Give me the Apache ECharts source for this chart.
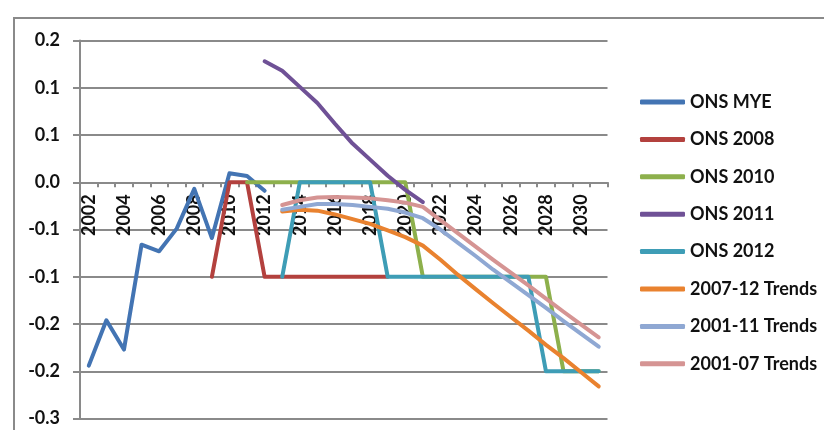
<!DOCTYPE html>
<html>
<head>
<meta charset="utf-8">
<script src="https://cdn.jsdelivr.net/npm/echarts@6/dist/echarts.min.js"></script>
<style>
  html, body { margin: 0; padding: 0; background: #fff; }
  #chart { width: 824px; height: 430px; }
</style>
</head>
<body>
<div id="chart"></div>
<script>
// Years on the category axis
const years = [2002, 2003, 2004, 2005, 2006, 2007, 2008, 2009, 2010, 2011,
               2012, 2013, 2014, 2015, 2016, 2017, 2018, 2019, 2020, 2021,
               2022, 2023, 2024, 2025, 2026, 2027, 2028, 2029, 2030, 2031];

// Series values, one per year (null where a series has no value)
const onsMye = [-0.194, -0.146, -0.177, -0.066, -0.073, -0.049, -0.007, -0.059, 0.0095, 0.0067,
                -0.009, null, null, null, null, null, null, null, null, null,
                null, null, null, null, null, null, null, null, null, null];
const ons2008 = [null, null, null, null, null, null, null, -0.1, 0, 0,
                 -0.1, -0.1, -0.1, -0.1, -0.1, -0.1, -0.1, -0.1, null, null,
                 null, null, null, null, null, null, null, null, null, null];
const ons2010 = [null, null, null, null, null, null, null, null, null, 0,
                 0, 0, 0, 0, 0, 0, 0, 0, 0, -0.1,
                 -0.1, -0.1, -0.1, -0.1, -0.1, -0.1, -0.1, -0.2, -0.2, -0.2];
const ons2011 = [null, null, null, null, null, null, null, null, null, null,
                 0.128, 0.118, 0.101, 0.084, 0.062, 0.041, 0.024, 0.007, -0.008, -0.021,
                 null, null, null, null, null, null, null, null, null, null];
const ons2012 = [null, null, null, null, null, null, null, null, null, null,
                 null, -0.1, 0, 0, 0, 0, 0, -0.1, -0.1, -0.1,
                 -0.1, -0.1, -0.1, -0.1, -0.1, -0.1, -0.2, -0.2, -0.2, -0.2];
const trends0712 = [null, null, null, null, null, null, null, null, null, null,
                    null, -0.031, -0.029, -0.030, -0.034, -0.039, -0.044, -0.051, -0.058, -0.067,
                    -0.082, -0.098, -0.113, -0.128, -0.1425, -0.157, -0.172, -0.186, -0.201, -0.216];
const trends0111 = [null, null, null, null, null, null, null, null, null, null,
                    null, -0.029, -0.026, -0.023, -0.023, -0.024, -0.026, -0.028, -0.032, -0.038,
                    -0.050, -0.064, -0.078, -0.0925, -0.106, -0.1195, -0.133, -0.147, -0.1605, -0.174];
const trends0107 = [null, null, null, null, null, null, null, null, null, null,
                    null, -0.024, -0.019, -0.016, -0.0155, -0.016, -0.017, -0.019, -0.0215, -0.026,
                    -0.040, -0.054, -0.068, -0.082, -0.0956, -0.109, -0.123, -0.137, -0.1507, -0.164];

const seriesNames = ['ONS MYE', 'ONS 2008', 'ONS 2010', 'ONS 2011', 'ONS 2012',
                     '2007-12 Trends', '2001-11 Trends', '2001-07 Trends'];
const seriesData = [onsMye, ons2008, ons2010, ons2011, ons2012, trends0712, trends0111, trends0107];
const seriesColors = ['#4374B3', '#B3413E', '#8DB04C', '#6F5196', '#3E9DB6',
                      '#E9822F', '#8FA8D3', '#D59493'];

// Value axis range
const yMin = -0.25, yMax = 0.15, yStep = 0.05;

// One decimal, halves rounded away from zero
function oneDecimal(v) {
  const r = Math.round(Math.abs(v) * 10 + 1e-9) / 10;
  const s = r.toFixed(1);
  return (v < 0 && r !== 0) ? '-' + s : s;
}

const FONT = 'Lato, "Open Sans", sans-serif';
const GRAY = '#8a8a8a';

// Plot box
const GRID_TOP = 40.55, GRID_BOTTOM = 11.45, PLOT_H = 430 - GRID_TOP - GRID_BOTTOM;
// Category axis sits on the zero line of the value axis
const zeroOffset = -PLOT_H * (0 - yMin) / (yMax - yMin);

const chart = echarts.init(document.getElementById('chart'), null, { renderer: 'canvas' });

chart.setOption({
  animation: false,
  backgroundColor: '#ffffff',
  graphic: [{
    type: 'rect',
    shape: { x: 14, y: 18, width: 900, height: 500 },
    style: { fill: 'none', stroke: GRAY, lineWidth: 2 },
    silent: true
  }],
  grid: { left: 80, right: 216.5, top: GRID_TOP, bottom: GRID_BOTTOM, containLabel: false, outerBoundsMode: 'none' },
  legend: {
    orient: 'vertical',
    left: 635,
    top: 87,
    itemWidth: 45,
    itemHeight: 5,
    itemGap: 17.4,
    icon: 'roundRect',
    textStyle: {
      fontFamily: FONT, fontSize: 18, fontWeight: 'bold', color: '#111',
      lineHeight: 20
    },
    data: seriesNames
  },
  xAxis: {
    type: 'category',
    data: years,
    boundaryGap: true,
    position: 'bottom',
    offset: zeroOffset,
    axisLine: { show: true, onZero: false, lineStyle: { color: GRAY, width: 2 } },
    axisTick: { show: true, interval: 0, length: 5, inside: false, lineStyle: { color: GRAY, width: 2 } },
    axisLabel: {
      interval: 1, rotate: 90, margin: 12,
      fontFamily: FONT, fontSize: 18, fontWeight: 'bold', color: '#111'
    },
    splitLine: { show: false }
  },
  yAxis: {
    type: 'value',
    min: yMin, max: yMax, interval: yStep,
    axisLine: { show: true, lineStyle: { color: GRAY, width: 2 } },
    axisTick: { show: true, length: 7, lineStyle: { color: GRAY, width: 2 } },
    axisLabel: {
      margin: 20, formatter: oneDecimal,
      fontFamily: FONT, fontSize: 18, fontWeight: 'bold', color: '#111'
    },
    splitLine: { show: true, lineStyle: { color: GRAY, width: 2 } }
  },
  // Lines go on their own layer so they sit above the year labels
  series: seriesNames.map((name, i) => ({
    name: name,
    type: 'line',
    zlevel: 1,
    data: seriesData[i],
    showSymbol: false,
    symbol: 'none',
    connectNulls: false,
    smooth: false,
    color: seriesColors[i],
    lineStyle: { width: 4, color: seriesColors[i], cap: 'round', join: 'round' },
    itemStyle: { color: seriesColors[i] }
  }))
});
</script>
</body>
</html>
